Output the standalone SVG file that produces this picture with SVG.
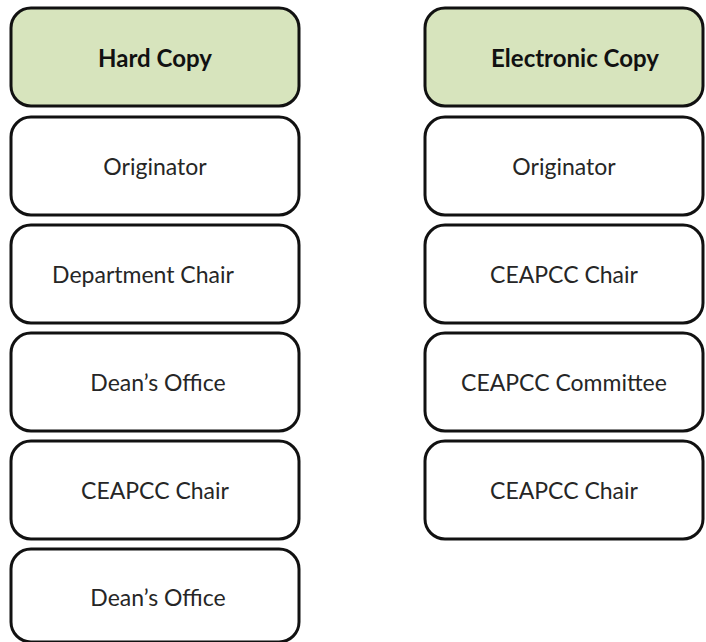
<svg xmlns="http://www.w3.org/2000/svg" width="706" height="642" viewBox="0 0 706 642">
  <style>
    .box { fill: #ffffff; stroke: #111111; stroke-width: 3; }
    .head { fill: #d7e4bd; }
    text { font-family: Lato, "Open Sans", "Liberation Sans", sans-serif; font-size: 23px; fill: #262626; text-anchor: middle; dominant-baseline: central; }
    .bold { font-weight: bold; font-size: 24px; fill: #111111; }
  </style>
  <rect width="706" height="642" fill="#ffffff"/>
  <g id="connectors"></g>
  <!-- Left column: hard copy routing -->
  <g id="hard-copy"><rect class="box head" x="11" y="8" width="288" height="98" rx="20"/><text class="bold" x="155" y="57">Hard Copy</text></g>
  <g id="hc-originator"><rect class="box" x="11" y="117" width="288" height="98" rx="20"/><text x="155" y="166">Originator</text></g>
  <g id="hc-department-chair"><rect class="box" x="11" y="225" width="288" height="98" rx="20"/><text x="143" y="274">Department Chair</text></g>
  <g id="hc-deans-office-1"><rect class="box" x="11" y="333" width="288" height="98" rx="20"/><text x="158" y="382">Dean’s Office</text></g>
  <g id="hc-ceapcc-chair"><rect class="box" x="11" y="441" width="288" height="98" rx="20"/><text x="155" y="490">CEAPCC Chair</text></g>
  <g id="hc-deans-office-2"><rect class="box" x="11" y="549" width="288" height="93" rx="20"/><text x="158" y="597">Dean’s Office</text></g>
  <!-- Right column: electronic copy routing -->
  <g id="electronic-copy"><rect class="box head" x="425" y="8" width="278" height="98" rx="20"/><text class="bold" x="575" y="57">Electronic Copy</text></g>
  <g id="ec-originator"><rect class="box" x="425" y="117" width="278" height="98" rx="20"/><text x="564" y="166">Originator</text></g>
  <g id="ec-ceapcc-chair-1"><rect class="box" x="425" y="225" width="278" height="98" rx="20"/><text x="564" y="274">CEAPCC Chair</text></g>
  <g id="ec-ceapcc-committee"><rect class="box" x="425" y="333" width="278" height="98" rx="20"/><text x="564" y="382">CEAPCC Committee</text></g>
  <g id="ec-ceapcc-chair-2"><rect class="box" x="425" y="441" width="278" height="98" rx="20"/><text x="564" y="490">CEAPCC Chair</text></g>
</svg>
